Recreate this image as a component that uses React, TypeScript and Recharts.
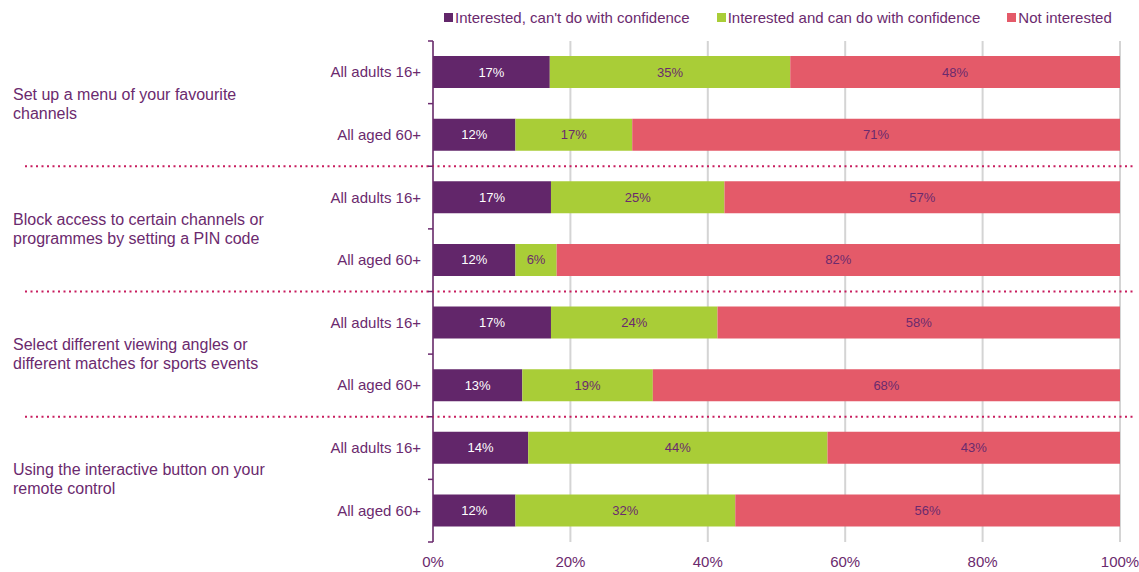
import { BarChart, Bar, XAxis, YAxis, CartesianGrid, LabelList } from 'recharts';

const rowLabels = [
    'All adults 16+', 'All aged 60+',
    'All adults 16+', 'All aged 60+',
    'All adults 16+', 'All aged 60+',
    'All adults 16+', 'All aged 60+',
];

const groupLabels = [
    ['Set up a menu of your favourite', 'channels'],
    ['Block access to certain channels or', 'programmes by setting a PIN code'],
    ['Select different viewing angles or', 'different matches for sports events'],
    ['Using the interactive button on your', 'remote control'],
];

const cantDo = [17, 12, 17, 12, 17, 13, 14, 12];
const canDo = [35, 17, 25, 6, 24, 19, 44, 32];
const notInterested = [48, 71, 57, 82, 58, 68, 43, 56];

const xTicks = [0, 0.2, 0.4, 0.6, 0.8, 1];

const seriesNames = ["Interested, can't do with confidence", 'Interested and can do with confidence', 'Not interested'];

const data = rowLabels.map((_, i) => ({
    row: String(i),
    cantDo: cantDo[i],
    canDo: canDo[i],
    notInterested: notInterested[i],
}));

const PURPLE = '#62266a';
const GREEN = '#a9cd37';
const RED = '#e45a69';
const TEXT = '#6b2a6e';
const DOTS = '#c81d5e';

const W = 1139;
const H = 572;
const TOP = 41;
const AXIS_X = 433;
const X_AXIS_H = 30;
const BAND = (H - TOP - X_AXIS_H) / rowLabels.length;
const FONT = '"Liberation Sans", Arial, sans-serif';

const RowTick = (props: any) => {
    const { y, payload } = props;
    const i = Number(payload.value);
    const half = BAND / 2;
    const last = rowLabels.length - 1;
    return (
        <g>
            <text x={AXIS_X - 12} y={y} dy={5} textAnchor="end" fill={TEXT} fontSize={15} fontFamily={FONT}>
                {rowLabels[i]}
            </text>
            <line x1={AXIS_X - 5} x2={AXIS_X} y1={y - half} y2={y - half} stroke={TEXT} strokeWidth={1.5} />
            {i === last && (
                <line x1={AXIS_X - 5} x2={AXIS_X} y1={y + half} y2={y + half} stroke={TEXT} strokeWidth={1.5} />
            )}
            {i % 2 === 1 && i < last && (
                <line x1={25} x2={1135} y1={y + half} y2={y + half} stroke={DOTS} strokeWidth={2} strokeDasharray="2 3.5" />
            )}
            {i % 2 === 0 && (
                <text x={13} y={y + half} fill={TEXT} fontSize={16} fontFamily={FONT}>
                    <tspan x={13} dy={-4}>{groupLabels[i / 2][0]}</tspan>
                    <tspan x={13} dy={19}>{groupLabels[i / 2][1]}</tspan>
                </text>
            )}
        </g>
    );
};

const App = () => {
    const colors = [PURPLE, GREEN, RED];
    return (
        <div style={{ position: 'absolute', left: 0, top: 0, width: W, height: H, background: '#fff', fontFamily: FONT }}>
            <div style={{ position: 'absolute', left: 444, top: 9, display: 'flex', gap: 27, alignItems: 'center' }}>
                {seriesNames.map((name, i) => (
                    <div key={name} style={{ display: 'flex', alignItems: 'center', color: TEXT, fontSize: 15 }}>
                        <span style={{ width: 9, height: 9, background: colors[i], display: 'inline-block', marginRight: 2 }} />
                        {name}
                    </div>
                ))}
            </div>
            <BarChart
                width={W}
                height={H}
                data={data}
                layout="vertical"
                stackOffset="expand"
                margin={{ top: TOP, right: 19, bottom: 0, left: 0 }}
            >
                <CartesianGrid horizontal={false} stroke="#d4d4d4" strokeWidth={2} />
                <XAxis
                    type="number"
                    domain={[0, 1]}
                    ticks={xTicks}
                    tickFormatter={(v: number) => `${Math.round(v * 100)}%`}
                    axisLine={false}
                    tickLine={false}
                    height={X_AXIS_H}
                    tick={{ fill: TEXT, fontSize: 15, fontFamily: FONT }}
                    dy={6}
                />
                <YAxis
                    type="category"
                    dataKey="row"
                    width={AXIS_X}
                    interval={0}
                    tickLine={false}
                    axisLine={{ stroke: TEXT, strokeWidth: 1.5 }}
                    tick={<RowTick />}
                />
                <Bar dataKey="cantDo" stackId="a" fill={PURPLE} barSize={32} isAnimationActive={false}>
                    <LabelList dataKey="cantDo" position="center" formatter={(v: any) => `${v}%`} fill="#ffffff" fontSize={13} fontFamily={FONT} />
                </Bar>
                <Bar dataKey="canDo" stackId="a" fill={GREEN} barSize={32} isAnimationActive={false}>
                    <LabelList dataKey="canDo" position="center" formatter={(v: any) => `${v}%`} fill={TEXT} fontSize={13} fontFamily={FONT} />
                </Bar>
                <Bar dataKey="notInterested" stackId="a" fill={RED} barSize={32} isAnimationActive={false}>
                    <LabelList dataKey="notInterested" position="center" formatter={(v: any) => `${v}%`} fill={TEXT} fontSize={13} fontFamily={FONT} />
                </Bar>
            </BarChart>
        </div>
    );
};

export default App;
